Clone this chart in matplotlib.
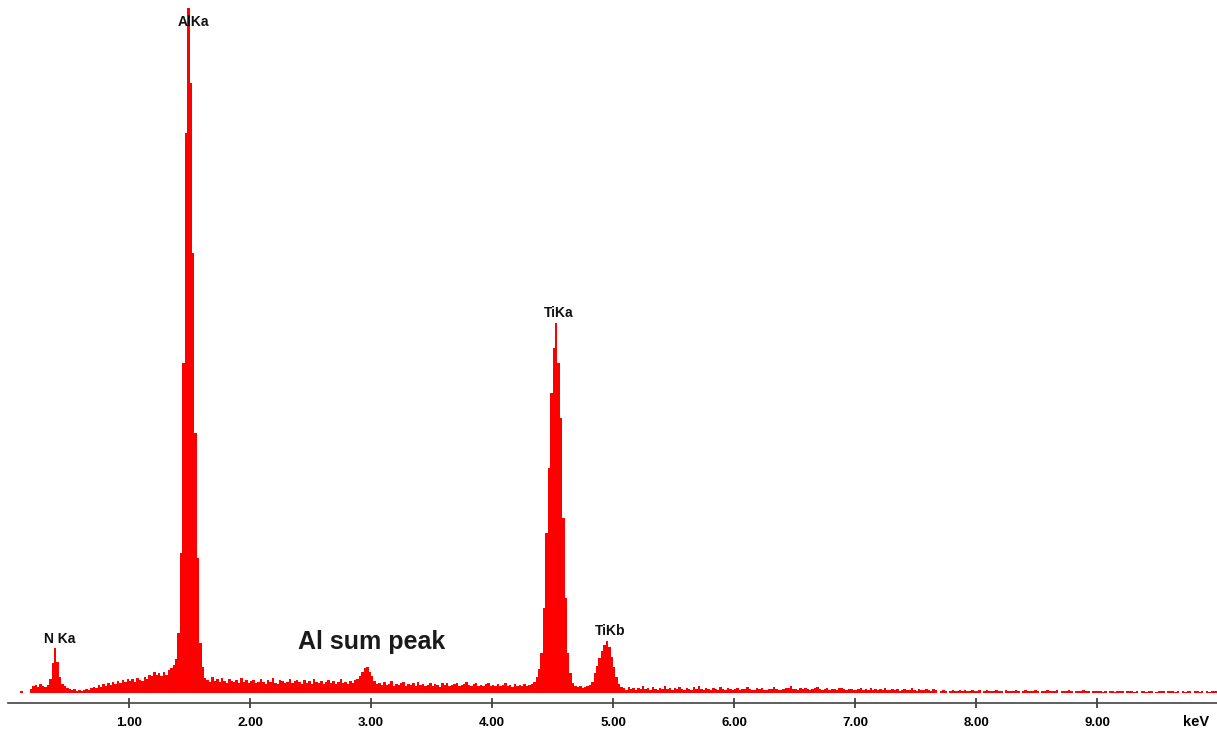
import numpy as np
import matplotlib.pyplot as plt

# EDS spectrum, counts per 0.02 keV channel (arbitrary units)
channel_width = 0.02
counts_0_1 = [0, 0, 0, 0, 0, 2, 0, 0, 0, 4,
              7, 8, 6, 9, 7, 6, 8, 14, 30, 45,
              31, 16, 9, 7, 5, 4, 3, 4, 2, 3,
              2, 3, 4, 3, 5, 6, 5, 8, 6, 9,
              7, 10, 8, 11, 9, 12, 10, 13, 11, 14]
counts_1_2 = [12, 14, 11, 15, 13, 12, 16, 14, 18, 17,
              21, 18, 20, 17, 21, 18, 23, 25, 28, 34,
              60, 140, 330, 560, 685, 610, 440, 260, 135, 50,
              26, 15, 13, 11, 16, 12, 14, 11, 15, 12,
              10, 14, 12, 11, 13, 10, 15, 11, 13, 10]
counts_2_3 = [12, 13, 10, 11, 14, 11, 9, 13, 11, 15,
              10, 9, 13, 12, 10, 11, 14, 10, 12, 13,
              11, 9, 13, 10, 12, 9, 14, 11, 10, 12,
              9, 11, 13, 10, 12, 9, 11, 14, 10, 11,
              9, 12, 10, 13, 14, 17, 21, 25, 26, 21]
counts_3_4 = [17, 12, 9, 10, 8, 11, 8, 9, 12, 7,
              9, 8, 10, 11, 7, 9, 8, 10, 7, 11,
              8, 9, 7, 8, 10, 7, 9, 8, 6, 10,
              8, 10, 7, 8, 9, 10, 7, 8, 9, 11,
              8, 7, 9, 10, 7, 8, 7, 9, 10, 7]
counts_4_5 = [8, 7, 9, 7, 8, 10, 7, 8, 6, 9,
              7, 8, 7, 9, 7, 8, 9, 11, 16, 24,
              40, 85, 160, 225, 300, 345, 370, 330, 275, 175,
              95, 40, 20, 10, 7, 6, 7, 5, 6, 7,
              8, 11, 20, 27, 35, 42, 48, 52, 46, 36]
counts_5_6 = [26, 16, 9, 6, 5, 3, 6, 4, 5, 3,
              5, 4, 7, 4, 5, 3, 6, 4, 3, 5,
              4, 7, 4, 5, 3, 5, 4, 6, 4, 3,
              5, 4, 3, 6, 4, 7, 4, 3, 5, 4,
              3, 5, 4, 3, 6, 4, 3, 5, 4, 3]
counts_6_7 = [4, 5, 3, 4, 4, 6, 4, 3, 3, 5,
              4, 5, 3, 3, 4, 4, 6, 4, 3, 3,
              4, 5, 5, 7, 4, 4, 3, 5, 4, 5,
              4, 3, 4, 5, 6, 4, 3, 4, 5, 3,
              4, 4, 3, 5, 5, 4, 3, 4, 4, 3]
counts_7_8 = [3, 4, 5, 3, 4, 3, 5, 3, 4, 3,
              4, 3, 5, 3, 3, 4, 3, 4, 2, 3,
              4, 3, 3, 5, 3, 2, 4, 3, 3, 4,
              3, 2, 4, 3, 0, 2, 3, 2, 0, 2,
              3, 2, 2, 3, 2, 3, 2, 2, 3, 2]
counts_8_9 = [2, 3, 0, 2, 3, 2, 2, 2, 3, 2,
              2, 0, 3, 2, 2, 2, 3, 2, 0, 2,
              3, 2, 2, 2, 3, 2, 0, 2, 2, 3,
              2, 2, 2, 3, 0, 2, 2, 2, 3, 2,
              0, 2, 2, 2, 3, 2, 2, 0, 2, 2]
counts_9_10 = [2, 2, 1, 2, 0, 2, 2, 1, 2, 2,
               2, 0, 2, 2, 2, 1, 2, 0, 2, 2,
               1, 2, 2, 0, 1, 2, 2, 2, 0, 2,
               2, 2, 1, 2, 0, 2, 1, 2, 2, 0,
               2, 2, 1, 2, 0, 2, 1, 2, 2, 2]

tick_values = [1, 2, 3, 4, 5, 6, 7, 8, 9]
tick_labels = ['1.00', '2.00', '3.00', '4.00', '5.00', '6.00', '7.00', '8.00', '9.00']

# peak labels: (text, keV, height)
peak_labels = [('AlKa', 1.53, 671), ('TiKa', 4.554, 380), ('TiKb', 4.98, 62), ('N Ka', 0.424, 54)]

counts = np.array(counts_0_1 + counts_1_2 + counts_2_3 + counts_3_4 + counts_4_5 +
                  counts_5_6 + counts_6_7 + counts_7_8 + counts_8_9 + counts_9_10)
edges = np.arange(len(counts) + 1) * channel_width

fig = plt.figure(figsize=(12.17, 7.31), dpi=100)
ax = fig.add_axes([8 / 1217, 28 / 731, 1210 / 1217, 703 / 731])

ax.stairs(counts, edges, fill=True, color='#ff0000', linewidth=0)

ax.set_xlim(0, 10)
ax.set_ylim(-10, 693)

for s in ['left', 'top', 'right']:
    ax.spines[s].set_visible(False)
ax.spines['bottom'].set_color('#444444')
ax.spines['bottom'].set_linewidth(1.2)
ax.set_yticks([])
ax.set_xticks(tick_values)
ax.set_xticklabels(tick_labels, fontfamily='Liberation Sans', fontweight='bold', fontsize=9.5)
ax.tick_params(axis='x', direction='inout', length=6.5, width=1.2, color='#333333', pad=7)

ax.text(9.82, -29, 'keV', ha='center', va='center', fontfamily='Liberation Sans',
        fontweight='bold', fontsize=10.5, clip_on=False)

for txt, xv, yv in peak_labels:
    ax.text(xv, yv, txt, ha='center', va='center', fontfamily='Liberation Sans',
            fontweight='bold', fontsize=10, color='#111111')

ax.text(3.005, 51, 'Al sum peak', ha='center', va='center', fontfamily='Liberation Sans',
        fontweight='bold', fontsize=18, color='#1a1a1a')

fig.savefig('out.png', dpi=100)
